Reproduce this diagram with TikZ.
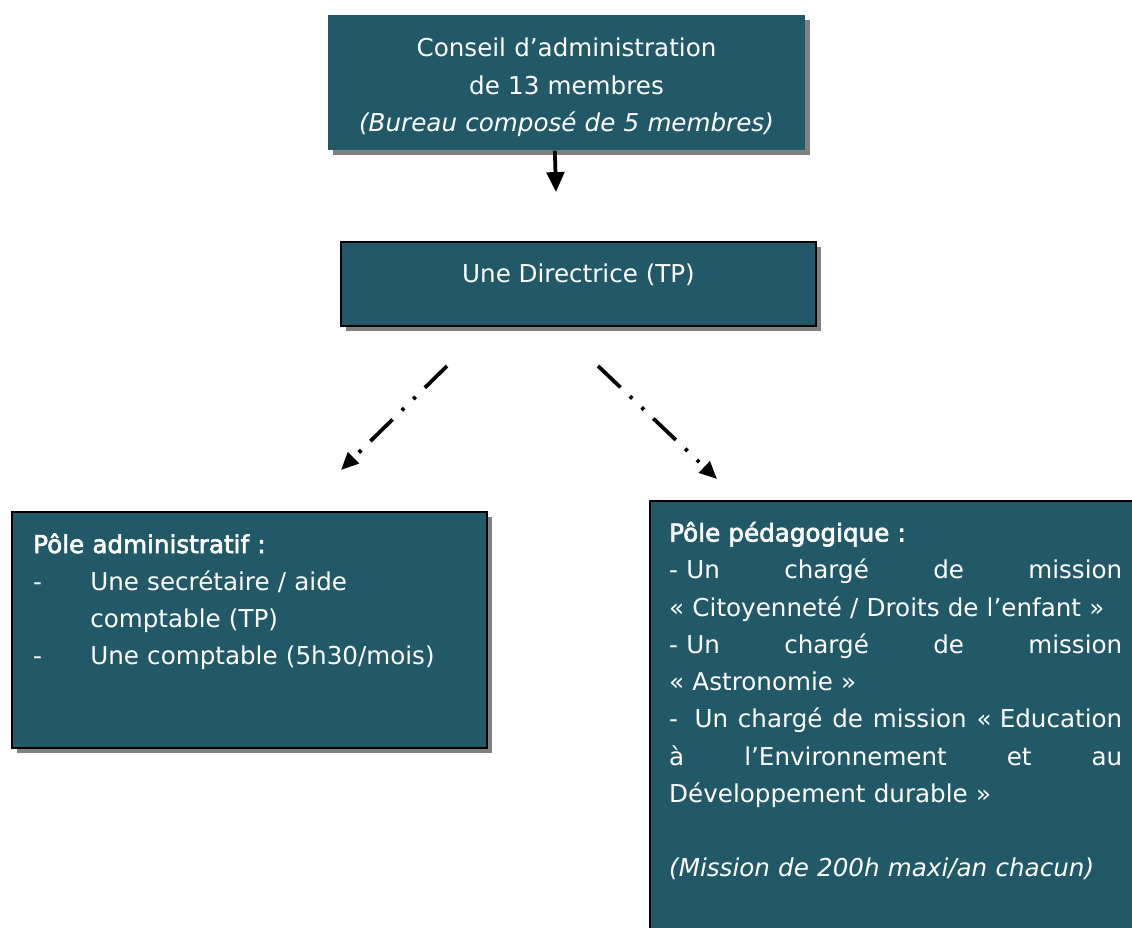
\documentclass[tikz,border=0pt]{standalone}
\usepackage{fontspec}
\setmainfont{DejaVu Sans}[BoldFont={DejaVu Sans}, BoldFeatures={FakeBold=2.5}]
\usetikzlibrary{arrows.meta,shadows}

\definecolor{boxfill}{RGB}{34,89,104}

\tikzset{
	orgbox/.style={fill=boxfill, draw=black, line width=1.2pt, inner sep=0pt,
		drop shadow={shadow xshift=0.15cm, shadow yshift=-0.15cm, fill=black!50, opacity=1}},
	boxtext/.style={text=white, inner sep=0pt, font=\fontsize{21}{31.8}\selectfont},
	dashdot/.style={line width=3.2pt, dash pattern=on 26.5pt off 11pt on 2.8pt off 11pt on 2.8pt off 11pt,
		-{Triangle[length=15pt,width=13pt]}}
}

\begin{document}
\begin{tikzpicture}[x=0.03cm, y=-0.03cm]
		\useasboundingbox (0,0) rectangle (1132,927);
		\clip (0,0) rectangle (1132,927);

		\draw (566.5,82.5) node[orgbox, draw=none, minimum width=14.31cm, minimum height=4.05cm] (conseil) {};
		\draw (578.5,284) node[orgbox, minimum width=14.25cm, minimum height=2.52cm] (directrice) {};
		\draw (249.5,630) node[orgbox, minimum width=14.25cm, minimum height=7.08cm] (admin) {};
		\draw (900,725.5) node[orgbox, minimum width=15cm, minimum height=13.47cm] (pedago) {};

		\draw (566.5,57) node[boxtext, anchor=base, align=center, text width=13.5cm] (conseiltxt)
			{Conseil d’administration\\de 13 membres\\\textit{(Bureau composé de 5 membres)}};
		\draw (578.5,282) node[boxtext, anchor=base] (directricetxt) {Une Directrice (TP)};
		\draw (33,553) node[boxtext, anchor=base west, align=left, text width=13cm] (admintxt)
			{\textbf{Pôle administratif :}\\
			\makebox[48.7pt][l]{-}Une secrétaire / aide\\
			\hspace*{48.7pt}comptable (TP)\\
			\makebox[48.7pt][l]{-}Une comptable (5h30/mois)};
		\draw (669,541.5) node[boxtext, anchor=base west, align=left, text width=13.59cm] (pedagotxt)
			{\textbf{Pôle pédagogique :}\\
			- Un\hfill chargé\hfill de\hfill mission\\
			«~Citoyenneté / Droits de l’enfant~»\\
			- Un\hfill chargé\hfill de\hfill mission\\
			«~Astronomie~»\\
			-\ \ Un\hfill chargé\hfill de\hfill mission\hfill «~Education\\
			à\hfill l’Environnement\hfill et\hfill au\\
			Développement durable~»\\[31.8pt]
			\textit{(Mission de 200h maxi/an chacun)}};

		\coordinate (dirin) at (556,192);
		\coordinate (adminfrom) at (447,366);
		\coordinate (adminto) at (341,470);
		\coordinate (pedagofrom) at (598,366);
		\coordinate (pedagoto) at (717,479);

		\draw [line width=3.2pt, -{Triangle[length=17pt,width=15pt]}] ([xshift=-0.35cm]conseil.south) -- (dirin);
		\draw [dashdot] (adminfrom) -- (adminto);
		\draw [dashdot] (pedagofrom) -- (pedagoto);
	\end{tikzpicture}
\end{document}
